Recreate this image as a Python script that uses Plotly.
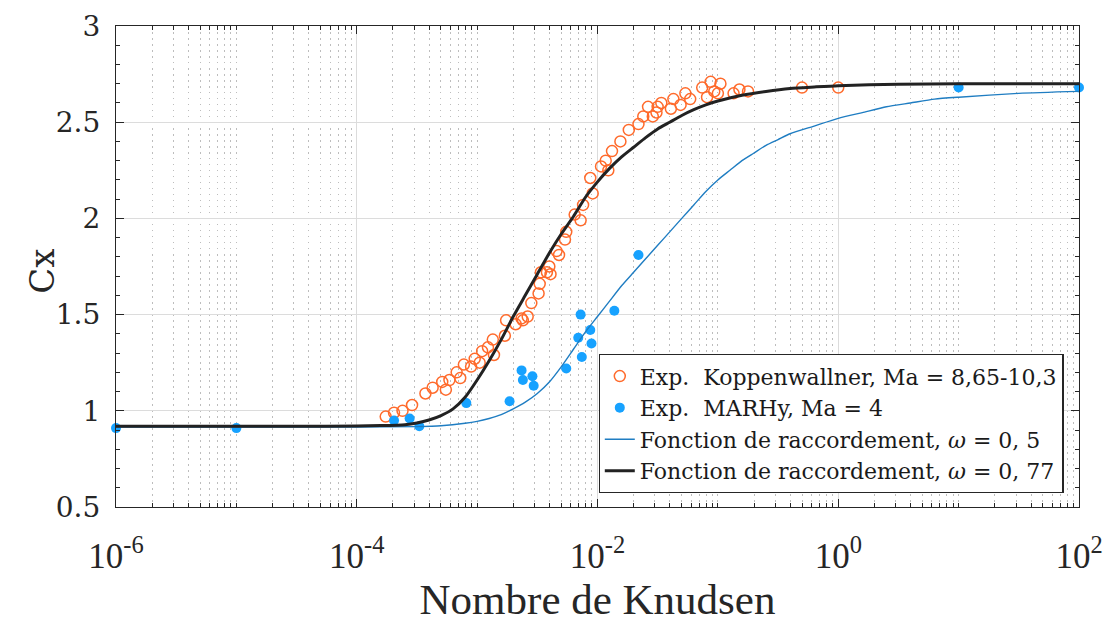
import plotly.graph_objects as go

# ---- Data ----
koppen_kn = [1.74e-4, 2.04e-4, 2.40e-4, 2.88e-4, 3.72e-4, 4.27e-4, 5.13e-4, 5.50e-4, 5.89e-4, 6.76e-4,
             7.24e-4, 7.76e-4, 8.91e-4, 9.55e-4, 1.05e-3, 1.10e-3, 1.23e-3, 1.35e-3, 1.38e-3, 1.70e-3,
             1.74e-3, 2.09e-3, 2.34e-3, 2.40e-3, 2.63e-3, 2.82e-3, 3.24e-3, 3.31e-3, 3.39e-3, 3.80e-3,
             3.98e-3, 4.07e-3, 4.57e-3, 4.79e-3, 5.37e-3, 5.50e-3, 6.46e-3, 7.24e-3, 7.59e-3, 9.12e-3,
             8.71e-3, 1.07e-2, 1.23e-2, 1.17e-2, 1.32e-2, 1.55e-2, 1.82e-2, 2.19e-2, 2.40e-2, 2.63e-2,
             2.88e-2, 3.09e-2, 3.16e-2, 3.39e-2, 4.07e-2, 4.27e-2, 4.90e-2, 5.37e-2, 5.89e-2, 7.41e-2,
             8.13e-2, 8.71e-2, 9.33e-2, 0.100, 0.105, 0.135, 0.151, 0.178, 0.50, 1.0]
koppen_cx = [0.97, 0.99, 1.00, 1.03, 1.09, 1.12, 1.15, 1.11, 1.16, 1.20,
             1.17, 1.24, 1.23, 1.27, 1.25, 1.31, 1.33, 1.37, 1.29, 1.39,
             1.47, 1.45, 1.48, 1.47, 1.49, 1.56, 1.61, 1.66, 1.72, 1.72,
             1.75, 1.71, 1.83, 1.81, 1.89, 1.93, 2.02, 1.99, 2.07, 2.13,
             2.21, 2.27, 2.25, 2.30, 2.35, 2.40, 2.46, 2.49, 2.53, 2.58,
             2.53, 2.55, 2.58, 2.60, 2.57, 2.62, 2.59, 2.65, 2.62, 2.68,
             2.63, 2.71, 2.66, 2.65, 2.70, 2.65, 2.67, 2.66, 2.68, 2.68]

marhy_kn = [1e-6, 1e-5, 2.04e-4, 2.75e-4, 3.31e-4, 8.13e-4, 1.86e-3, 2.34e-3, 2.40e-3, 2.88e-3,
            2.95e-3, 5.50e-3, 7.24e-3, 6.92e-3, 7.41e-3, 8.71e-3, 8.91e-3, 1.38e-2, 2.19e-2, 10.0, 100.0]
marhy_cx = [0.91, 0.91, 0.95, 0.96, 0.92, 1.04, 1.05, 1.21, 1.16, 1.18,
            1.13, 1.22, 1.50, 1.38, 1.28, 1.42, 1.35, 1.52, 1.81, 2.68, 2.68]

# bridging-function curves: points (Kn as powers of ten)
fit05_log_kn = [-6, -4, -3.5, -3.3, -3.1, -3.0, -2.9, -2.8, -2.7, -2.6,
                -2.5, -2.4, -2.3, -2.2, -2.1, -2.0, -1.9, -1.8, -1.7, -1.6,
                -1.5, -1.4, -1.3, -1.2, -1.1, -1.0, -0.9, -0.8, -0.7, -0.6,
                -0.5, -0.4, -0.2, 0.0, 0.2, 0.4, 0.6, 0.8, 1.0, 1.5, 2.0]
fit05_cx = [0.915, 0.916, 0.918, 0.922, 0.935, 0.945, 0.96, 0.98, 1.01, 1.045,
            1.09, 1.15, 1.23, 1.32, 1.41, 1.49, 1.57, 1.65, 1.72, 1.79,
            1.86, 1.93, 2.00, 2.07, 2.14, 2.20, 2.25, 2.30, 2.34, 2.38,
            2.41, 2.44, 2.48, 2.52, 2.55, 2.58, 2.60, 2.62, 2.63, 2.65, 2.66]

fit077_log_kn = [-6, -5, -4.5, -4.0, -3.8, -3.6, -3.5, -3.4, -3.3, -3.2,
                 -3.1, -3.0, -2.9, -2.8, -2.7, -2.6, -2.5, -2.4, -2.3, -2.2,
                 -2.1, -2.0, -1.9, -1.8, -1.7, -1.6, -1.5, -1.4, -1.3, -1.2,
                 -1.1, -1.0, -0.8, -0.6, -0.4, -0.2, 0.0, 0.5, 1.0, 2.0]
fit077_cx = [0.92, 0.92, 0.92, 0.921, 0.923, 0.928, 0.937, 0.952, 0.975, 1.01,
             1.07, 1.16, 1.26, 1.37, 1.49, 1.60, 1.71, 1.82, 1.92, 2.01,
             2.11, 2.19, 2.26, 2.32, 2.37, 2.42, 2.465, 2.50, 2.535, 2.565,
             2.59, 2.61, 2.64, 2.66, 2.675, 2.683, 2.69, 2.697, 2.70, 2.70]

fit05_kn = [10.0 ** v for v in fit05_log_kn]
fit077_kn = [10.0 ** v for v in fit077_log_kn]

x_tick_vals = [1e-6, 1e-4, 1e-2, 1, 100]
x_tick_text = ["10<sup>-6</sup>", "10<sup>-4</sup>", "10<sup>-2</sup>", "10<sup>0</sup>", "10<sup>2</sup>"]
y_tick_vals = [0.5, 1, 1.5, 2, 2.5, 3]
y_tick_text = ["0.5", "1", "1.5", "2", "2.5", "3"]

# minor tick positions on the log axis
minor_x = []
for e in range(-6, 2):
    for d in range(1, 10):
        if d == 1 and e % 2 == 0:
            continue
        minor_x.append(d * 10.0 ** e)

ORANGE = "#FF6A2B"
BLUE_DOT = "#17A2FF"
BLUE_LINE = "#1F7DC2"
BLACK = "#222222"
legend_font = "DejaVu Serif"

fig = go.Figure()
fig.add_trace(go.Scatter(
    x=koppen_kn, y=koppen_cx, mode="markers",
    name="Exp.  Koppenwallner, Ma = 8,65-10,3",
    marker=dict(symbol="circle-open", size=11, color=ORANGE, line=dict(width=1.5, color=ORANGE)),
))
fig.add_trace(go.Scatter(
    x=marhy_kn, y=marhy_cx, mode="markers", cliponaxis=False,
    name="Exp.  MARHy, Ma = 4",
    marker=dict(symbol="circle", size=10, color=BLUE_DOT, line=dict(width=0)),
))
fig.add_trace(go.Scatter(
    x=fit05_kn, y=fit05_cx, mode="lines",
    name="Fonction de raccordement, <i>ω</i> = 0, 5",
    line=dict(color=BLUE_LINE, width=1.4, shape="spline", smoothing=0.6),
))
fig.add_trace(go.Scatter(
    x=fit077_kn, y=fit077_cx, mode="lines",
    name="Fonction de raccordement, <i>ω</i> = 0, 77",
    line=dict(color=BLACK, width=3, shape="spline", smoothing=0.6),
))

axis_common = dict(
    showline=True, linecolor="#262626", linewidth=1.2, mirror="allticks",
    ticks="inside", tickcolor="#262626", ticklen=8, tickwidth=1,
    zeroline=False, automargin=False,
)

fig.update_xaxes(
    type="log", range=[-6, 2],
    tickmode="array", tickvals=x_tick_vals, ticktext=x_tick_text,
    showgrid=True, gridcolor="#dcdcdc", gridwidth=1,
    tickfont=dict(family="Liberation Serif", size=35, color="#262626"),
    ticklabelstandoff=18,
    title=dict(text="Nombre de Knudsen", font=dict(family="Liberation Serif", size=43, color="#262626"), standoff=24),
    minor=dict(tickvals=minor_x, ticks="inside", ticklen=4, tickcolor="#262626",
               showgrid=True, gridcolor="#bdbdbd", griddash="1.5px,4.5px", gridwidth=1),
    **axis_common,
)
fig.update_yaxes(
    range=[0.5, 3],
    tickmode="array", tickvals=y_tick_vals, ticktext=y_tick_text,
    showgrid=True, gridcolor="#dcdcdc", gridwidth=1,
    tickfont=dict(family="DejaVu Serif", size=28, color="#262626"),
    ticklabelstandoff=9,
    minor=dict(dtick=0.1, ticks="inside", ticklen=4, tickcolor="#262626", showgrid=False),
    **axis_common,
)

fig.add_annotation(
    text="Cx", xref="paper", yref="paper", x=-0.0768, y=0.489,
    xanchor="center", yanchor="middle", textangle=-90, showarrow=False,
    font=dict(family="DejaVu Serif", size=34, color="#262626"),
)

fig.update_layout(
    width=1113, height=623,
    margin=dict(l=116, r=34, t=26, b=116),
    paper_bgcolor="white", plot_bgcolor="white",
    showlegend=True,
    legend=dict(
        x=0.984, y=0.029, xanchor="right", yanchor="bottom",
        bgcolor="white", bordercolor="#262626", borderwidth=1.2,
        font=dict(family=legend_font, size=22, color="#1a1a1a"),
        itemsizing="trace",
        tracegroupgap=0,
    ),
)

fig.write_html("out.html", config={"displayModeBar": False},
               post_script="document.body.style.margin='0px';")
